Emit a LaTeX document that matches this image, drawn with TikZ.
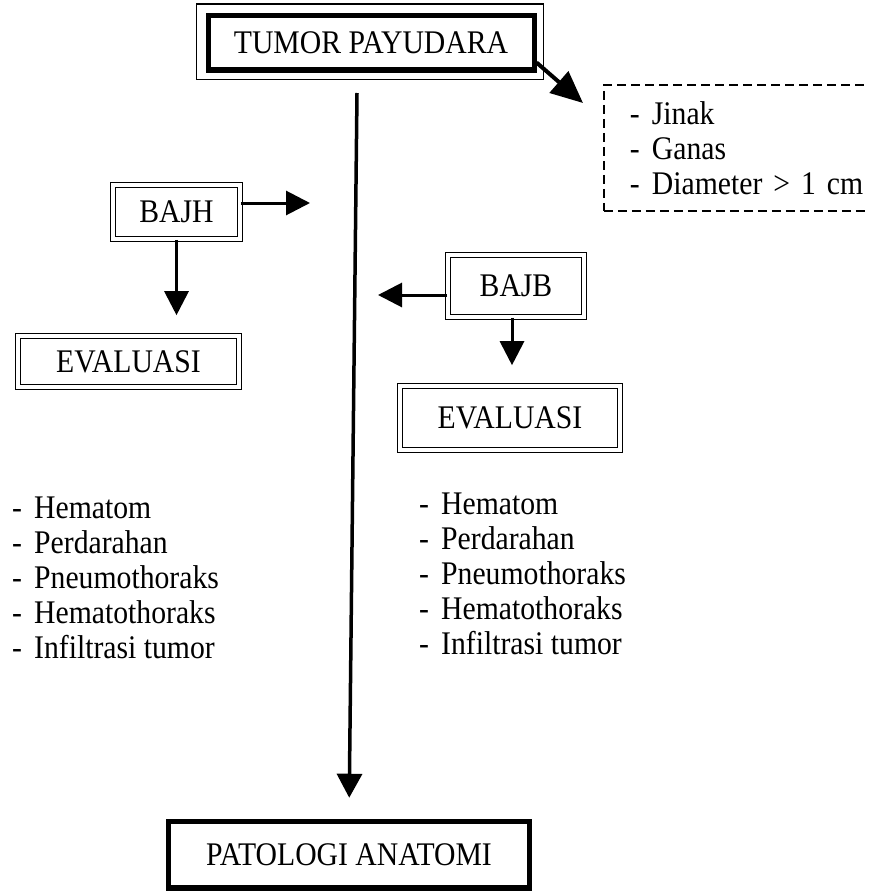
\documentclass[tikz,border=0pt]{standalone}
\usepackage{fontspec}
\setmainfont{Liberation Serif}[FakeStretch=0.9]
\usetikzlibrary{arrows.meta}
\newcommand\bigfnt{\fontsize{33}{35}\selectfont}
\newcommand\dashitem[1]{\makebox[22pt][l]{-}#1}
\begin{document}
\begin{tikzpicture}[x=1pt,y=-1pt,
  tbox/.style={draw, line width=5pt, inner sep=0pt, font=\bigfnt},
  dbox/.style={draw, double, line width=1.6pt, double distance=3.4pt, inner sep=0pt, font=\bigfnt},
  infobox/.style={draw, dash pattern=on 9pt off 5pt, line width=1.8pt, anchor=north west,
    minimum height=126pt, text width=260pt, inner xsep=26pt, align=left, font=\bigfnt},
  listtext/.style={anchor=west, align=left, inner sep=0pt, font=\bigfnt},
  arr/.style={line width=3pt, -{Triangle[length=24pt,width=24pt]}},
  bigarr/.style={line width=4pt, -{Triangle[length=32pt,width=28pt]}},
  mainline/.style={line width=3.5pt, -{Triangle[length=24pt,width=25pt]}}]
\clip (0,0) rectangle (869,891);
% top box
\node[tbox, minimum width=326pt, minimum height=54.5pt] (tumor) at (371,42.75) {TUMOR PAYUDARA\hspace{8pt}};
\draw[line width=1.5pt] ([xshift=-9pt,yshift=9pt]tumor.north west) rectangle ([xshift=7pt,yshift=-7pt]tumor.south east);
% dashed info box
\node[infobox] (info) at (603,84) {\dashitem{Jinak}\\ \dashitem{Ganas}\\ \dashitem{Diameter > 1 cm}};
% boxes
\node[dbox, minimum width=127pt, minimum height=54pt] (bajh) at (176.5,212) {BAJH};
\node[dbox, minimum width=221pt, minimum height=51pt] (evalA) at (128.5,361.5) {EVALUASI\hspace{10pt}};
\node[dbox, minimum width=136pt, minimum height=62pt] (bajb) at (516,286) {BAJB};
\node[dbox, minimum width=220pt, minimum height=64pt] (evalB) at (510,418) {EVALUASI};
\node[tbox, line width=5.5pt, minimum width=361pt, minimum height=66.5pt] (pa) at (349,854.75) {PATOLOGI ANATOMI\hspace{14pt}};
% lists
\node[listtext] (listA) at (12,578) {\dashitem{Hematom}\\ \dashitem{Perdarahan}\\ \dashitem{Pneumothoraks}\\ \dashitem{Hematothoraks}\\ \dashitem{Infiltrasi tumor}};
\node[listtext] (listB) at (419,574) {\dashitem{Hematom}\\ \dashitem{Perdarahan}\\ \dashitem{Pneumothoraks}\\ \dashitem{Hematothoraks}\\ \dashitem{Infiltrasi tumor}};
% free ends
\coordinate (diagtip) at (583,103);
\coordinate (mtop) at (357,93);
\coordinate (hR) at (310,203);
\coordinate (bL) at (378,295);
% connectors
\draw[bigarr] ([yshift=10pt]tumor.south east) -- (diagtip);
\draw[mainline, shorten >=21pt] (mtop) -- (pa.north);
\draw[arr] ([yshift=9pt]bajh.east) -- (hR);
\draw[arr, shorten >=20pt] (bajh.south) -- (bajh.south |- evalA.north);
\draw[arr] ([yshift=-9pt]bajb.west) -- (bL);
\draw[arr, shorten >=20pt] ([xshift=-4pt]bajb.south) -- ([xshift=-4pt]bajb.south |- evalB.north);
\end{tikzpicture}
\end{document}
